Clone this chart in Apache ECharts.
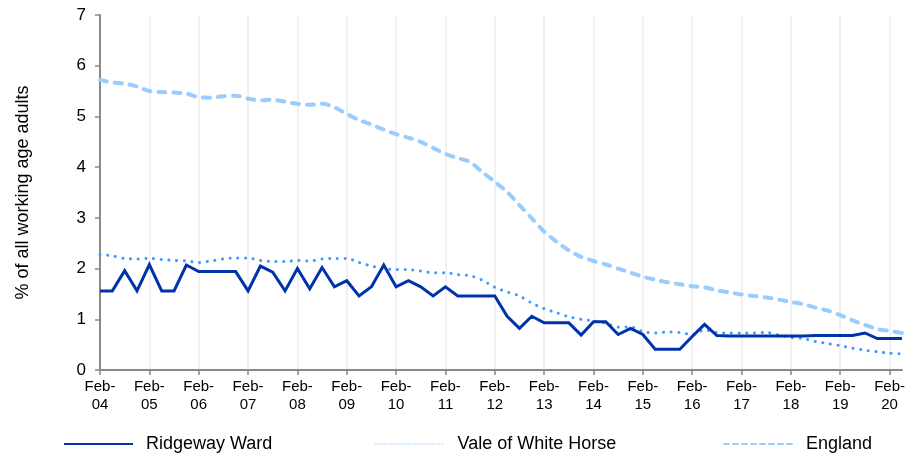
<!DOCTYPE html>
<html>
<head>
<meta charset="utf-8">
<script src="https://cdn.jsdelivr.net/npm/echarts@6/dist/echarts.min.js"></script>
<style>html,body{margin:0;padding:0;background:#fff}#c{width:908px;height:457px}</style>
</head>
<body>
<div id="c"></div>
<script>
// quarterly categories Feb-04 .. May-20
var years = ['04','05','06','07','08','09','10','11','12','13','14','15','16','17','18','19','20'];
var quarterMonths = ['Feb','May','Aug','Nov'];
var categories = [];
years.forEach(function (y) {
  quarterMonths.forEach(function (m) { categories.push(m + '-' + y); });
});
categories = categories.slice(0, 66);

var yTicks = [0, 1, 2, 3, 4, 5, 6, 7];

var ridgeway = [1.56,1.56,1.96,1.56,2.08,1.56,1.56,2.07,1.94,1.94,
  1.94,1.94,1.56,2.05,1.93,1.56,2.00,1.60,2.02,1.64,
  1.76,1.46,1.64,2.07,1.64,1.76,1.64,1.46,1.64,1.46,
  1.46,1.46,1.46,1.06,0.82,1.06,0.93,0.93,0.93,0.69,
  0.95,0.95,0.70,0.82,0.70,0.41,0.41,0.41,0.66,0.90,
  0.68,0.67,0.67,0.67,0.67,0.67,0.67,0.67,0.68,0.68,
  0.68,0.68,0.73,0.62,0.62,0.62];

var vale = [2.28,2.25,2.20,2.19,2.20,2.18,2.16,2.15,2.12,2.15,
  2.19,2.21,2.21,2.16,2.14,2.14,2.16,2.15,2.19,2.20,
  2.20,2.12,2.05,2.00,1.98,1.98,1.95,1.92,1.92,1.88,
  1.86,1.77,1.63,1.54,1.46,1.32,1.21,1.13,1.05,1.00,
  0.97,0.92,0.85,0.85,0.76,0.73,0.75,0.74,0.70,0.79,
  0.74,0.73,0.73,0.73,0.74,0.69,0.64,0.62,0.56,0.52,
  0.48,0.43,0.39,0.36,0.33,0.32];

var england = [5.72,5.67,5.65,5.59,5.50,5.48,5.47,5.45,5.38,5.37,
  5.40,5.41,5.35,5.32,5.33,5.29,5.25,5.23,5.25,5.18,
  5.05,4.93,4.84,4.74,4.65,4.58,4.50,4.38,4.26,4.18,
  4.10,3.90,3.71,3.51,3.25,2.99,2.73,2.53,2.36,2.23,
  2.15,2.08,2.00,1.92,1.84,1.78,1.73,1.69,1.65,1.63,
  1.57,1.53,1.49,1.46,1.43,1.39,1.34,1.30,1.23,1.17,
  1.08,0.98,0.89,0.81,0.77,0.73];

var seriesNames = ['Ridgeway Ward', 'Vale of White Horse', 'England'];
var yAxisTitle = '% of all working age adults';

var FONT = '"Liberation Sans", Arial, sans-serif';
var chart = echarts.init(document.getElementById('c'), null, {renderer: 'canvas'});

function legendAt(left, name, ls) {
  return {
    left: left, top: 430,
    itemWidth: 69, itemHeight: 14, itemGap: 0,
    data: [{name: name, lineStyle: ls, itemStyle: {opacity: 0}}],
    textStyle: {fontFamily: FONT, fontSize: 18, color: '#000', padding: [0, 0, 0, 8]},
    selectedMode: false
  };
}

chart.setOption({
  animation: false,
  backgroundColor: '#fff',
  grid: {left: 100, right: 1, top: 15, bottom: 87, containLabel: false},
  legend: [
    legendAt(58, seriesNames[0], {color: '#0033aa', width: 2, type: 'solid'}),
    legendAt(370, seriesNames[1], {color: '#a8d4ff', width: 1, type: [1, 2]}),
    legendAt(718, seriesNames[2], {color: '#99ccff', width: 2, type: [5, 4]})
  ],
  xAxis: {
    type: 'category',
    data: categories,
    boundaryGap: false,
    axisLine: {lineStyle: {color: '#898989', width: 2}},
    axisTick: {show: true, interval: 3, length: 5, lineStyle: {color: '#898989', width: 1.5}},
    splitLine: {show: true, interval: 3, lineStyle: {color: '#ececec', width: 1.5}},
    axisLabel: {
      interval: 3, margin: 8,
      fontFamily: FONT, fontSize: 15, color: '#000', lineHeight: 18,
      formatter: function (v) { return v.replace('-', '-\n'); }
    }
  },
  yAxis: {
    type: 'value',
    min: yTicks[0], max: yTicks[yTicks.length - 1], interval: 1,
    name: yAxisTitle,
    nameLocation: 'middle',
    nameGap: 68,
    nameTextStyle: {fontFamily: FONT, fontSize: 18, color: '#000'},
    axisLine: {show: true, lineStyle: {color: '#898989', width: 2}},
    axisTick: {show: true, length: 5, lineStyle: {color: '#898989', width: 1.5}},
    splitLine: {show: false},
    axisLabel: {margin: 14, fontFamily: FONT, fontSize: 17, color: '#000'}
  },
  series: [
    {
      name: seriesNames[0], type: 'line', data: ridgeway, symbol: 'none', z: 5,
      lineStyle: {color: '#0033aa', width: 3, join: 'miter'},
      itemStyle: {color: '#0033aa'}
    },
    {
      name: seriesNames[1], type: 'line', data: vale, symbol: 'none', smooth: 0.3, z: 4,
      lineStyle: {color: '#3d9bff', width: 3, type: [0.1, 7.6], cap: 'round'},
      itemStyle: {color: '#3d9bff'}
    },
    {
      name: seriesNames[2], type: 'line', data: england, symbol: 'none', smooth: 0.3, z: 3,
      lineStyle: {color: '#99ccff', width: 4, type: [7, 8], cap: 'round'},
      itemStyle: {color: '#99ccff'}
    }
  ]
});
</script>
</body>
</html>
